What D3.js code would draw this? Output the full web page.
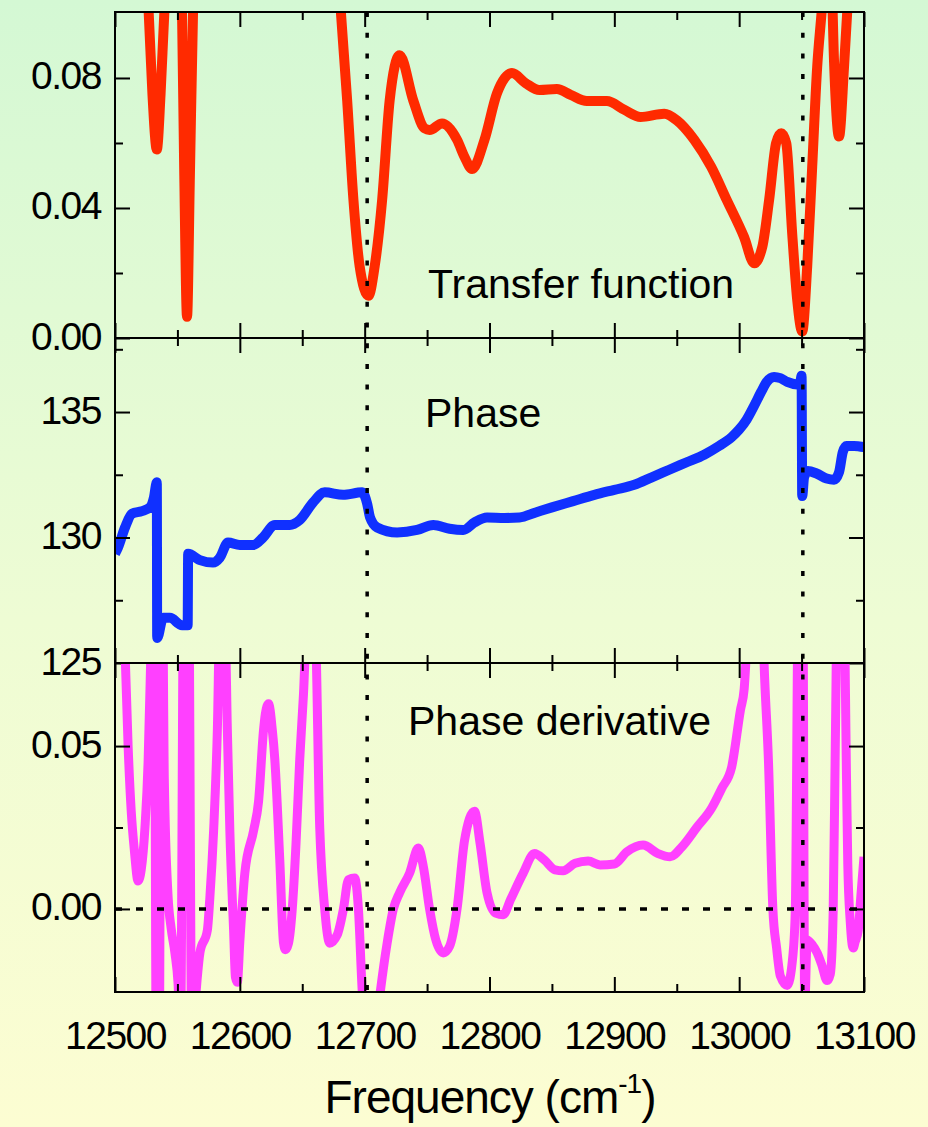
<!DOCTYPE html>
<html>
<head>
<meta charset="utf-8">
<script src="https://cdn.jsdelivr.net/npm/d3@7"></script>
<style>
  html, body { margin: 0; padding: 0; }
  svg { display: block; font-family: "Liberation Sans", Arial, sans-serif; }
</style>
</head>
<body>
<div id="chart"></div>
<script>
// x range shared by all three panels
const freqDomain = [12500, 13100];
const freqMajor = [12500, 12600, 12700, 12800, 12900, 13000, 13100];
const freqMinor = [12550, 12650, 12750, 12850, 12950, 13050];
const markerFreqs = [12702, 13051];

// transfer function (frequency, value)
const transferData = [
  [12500, 0.16], [12522, 0.13], [12527, 0.1], [12530, 0.075], [12533.5, 0.058], [12536.5, 0.075],
  [12539.5, 0.1], [12545, 0.13], [12551, 0.13], [12553.7, 0.1], [12555.5, 0.05], [12557.7, 0.0065],
  [12560, 0.05], [12562.5, 0.1], [12568, 0.14], [12620, 0.16], [12676, 0.13], [12681, 0.1],
  [12686, 0.073], [12691, 0.0425], [12696, 0.022], [12703, 0.013], [12708, 0.022], [12714, 0.0425],
  [12720, 0.073], [12728, 0.087], [12739, 0.073], [12748, 0.0645], [12752, 0.064], [12762, 0.066],
  [12774, 0.061], [12780, 0.0557], [12786, 0.052], [12796, 0.061], [12806, 0.0753], [12818, 0.0815],
  [12829, 0.0784], [12840, 0.0763], [12854, 0.0766], [12865, 0.0748], [12878, 0.0729], [12894, 0.0729],
  [12908, 0.0702], [12921, 0.068], [12940, 0.069], [12950, 0.067], [12964, 0.061], [12977.5, 0.0527],
  [12990, 0.0425], [13004, 0.031], [13012, 0.023], [13018.5, 0.028], [13024, 0.0425], [13029.6, 0.06],
  [13033.7, 0.063], [13037.7, 0.06], [13042.5, 0.032], [13046.5, 0.0117], [13050.5, 0.002],
  [13054.5, 0.022], [13058.5, 0.0527], [13062.5, 0.0834], [13066, 0.1], [13070, 0.12], [13074, 0.11],
  [13076, 0.085], [13080, 0.062], [13084, 0.0834], [13086.5, 0.1], [13090, 0.12], [13100, 0.14]
];

// phase (frequency, degrees)
const phaseData = [
  [12500, 129.35], [12502.4, 129.6], [12508, 130.4], [12513.6, 130.95], [12521.6, 131.05],
  [12528, 131.2], [12531.2, 131.6], [12533.5, 132.2], [12533.8, 126.0], [12538.5, 126.8],
  [12544, 126.8], [12553.7, 126.5], [12558.2, 126.5], [12558.6, 129.35], [12568, 129.1],
  [12578.5, 129.0], [12584, 129.2], [12590.5, 129.8], [12600, 129.7], [12610.6, 129.7],
  [12618.6, 130.0], [12628, 130.5], [12640, 130.5], [12648, 130.7], [12658.7, 131.4],
  [12668, 131.8], [12682.7, 131.7], [12698, 131.8], [12702, 131.35], [12704.3, 130.8],
  [12710, 130.4], [12726, 130.2], [12742, 130.3], [12755, 130.5], [12768, 130.35], [12779, 130.3],
  [12788, 130.6], [12798, 130.8], [12812, 130.78], [12824, 130.8], [12837, 131.0], [12850, 131.2],
  [12867, 131.45], [12884, 131.7], [12900, 131.9], [12916, 132.1], [12930, 132.4], [12944, 132.7],
  [12958, 133.0], [12972, 133.3], [12984, 133.65], [12994, 134.0], [13000, 134.3], [13006, 134.7],
  [13012, 135.25], [13017.6, 135.8], [13022, 136.2], [13028, 136.4], [13033, 136.35],
  [13038.5, 136.2], [13046.5, 136.1], [13049, 136.2], [13050, 136.45], [13050.5, 131.65],
  [13052, 132.4], [13055, 132.65], [13062, 132.55], [13070, 132.35], [13076, 132.3],
  [13080, 132.6], [13083, 133.4], [13086, 133.65], [13092, 133.65], [13100, 133.6]
];

// phase derivative (frequency, value)
const derivData = [
  [12500, 0.2], [12508, 0.08], [12510.5, 0.05], [12513, 0.03], [12515.5, 0.018], [12518.5, 0.0086],
  [12521, 0.012], [12524, 0.025], [12526.5, 0.045], [12528.5, 0.075], [12530, 0.1], [12531.5, 0.1],
  [12533, -0.04], [12535.5, -0.04], [12537, 0.1], [12538, 0.1], [12539.5, 0.04], [12542.5, 0.004],
  [12545, -0.006], [12548, -0.0135], [12550.5, -0.0227], [12552.5, -0.04], [12555, 0.1], [12559, 0.1],
  [12561.5, -0.04], [12564, -0.03], [12565.7, -0.022], [12568, -0.0135], [12574, -0.0065],
  [12576, 0.0035], [12579, 0.024], [12582, 0.055], [12584, 0.09], [12588, 0.09], [12590, 0.055],
  [12592, 0.024], [12595, -0.0065], [12596.5, -0.021], [12598, -0.0225], [12600, -0.01],
  [12604, 0.011], [12611, 0.024], [12615, 0.033], [12619, 0.055], [12620.5, 0.06], [12623, 0.063],
  [12626, 0.055], [12628, 0.046], [12632, 0.015], [12635, -0.0105], [12636.5, -0.0125],
  [12639, -0.0105], [12642, 0.0], [12645, 0.02], [12648, 0.046], [12651, 0.066], [12654, 0.09],
  [12660, 0.09], [12664, 0.025], [12668, 0.0], [12672, -0.0105], [12678, -0.008], [12683, 0.0],
  [12687, 0.009], [12692, 0.0095], [12695, 0.0], [12698, -0.025], [12705, -0.05], [12711, -0.03],
  [12718, -0.0105], [12723, 0.0], [12728, 0.005], [12736, 0.011], [12743, 0.0187], [12747, 0.013],
  [12752, 0.0], [12757, -0.0095], [12763, -0.0135], [12768, -0.0115], [12774, 0.0], [12780, 0.021],
  [12788, 0.03], [12792.5, 0.02], [12798, 0.005], [12805, -0.0013], [12811, -0.0018], [12817, 0.003],
  [12827, 0.011], [12836, 0.017], [12844, 0.015], [12852.5, 0.012], [12859, 0.0117], [12868.6, 0.014],
  [12879, 0.0147], [12888.6, 0.0135], [12900, 0.0138], [12910, 0.0175], [12923, 0.0196],
  [12935, 0.017], [12944.7, 0.016], [12954, 0.019], [12966, 0.025], [12978, 0.031], [12986, 0.037],
  [12994, 0.0436], [13001, 0.061], [13004, 0.0675], [13006, 0.08], [13010, 0.1], [13018, 0.1],
  [13020, 0.075], [13023.5, 0.045], [13027, 0.0], [13030, -0.012], [13033, -0.0206],
  [13038.5, -0.0235], [13043, -0.0145], [13045, 0.0], [13047.5, 0.1], [13051, 0.1],
  [13052.5, -0.03], [13054.5, -0.0095], [13058.5, -0.011], [13062.5, -0.0135], [13066, -0.017],
  [13070.5, -0.022], [13073, -0.02], [13075.3, -0.001], [13077, 0.05], [13078.5, 0.09],
  [13084, 0.09], [13086, 0.04], [13087, 0.014], [13089, -0.004], [13091.3, -0.012], [13093, -0.01],
  [13095.4, -0.0065], [13097.5, 0.004], [13100, 0.016]
];

const width = 928, height = 1127;
const left = 115, right = 864;

const svg = d3.select('#chart').append('svg')
  .attr('width', width)
  .attr('height', height);

// background: green at the top fading to pale yellow
const defs = svg.append('defs');
const grad = defs.append('linearGradient')
  .attr('id', 'bg').attr('x1', 0).attr('y1', 0).attr('x2', 0).attr('y2', 1);
grad.append('stop').attr('offset', '0%').attr('stop-color', '#d4f8d4');
grad.append('stop').attr('offset', '55%').attr('stop-color', '#eefcd4');
grad.append('stop').attr('offset', '100%').attr('stop-color', '#fcfdd2');
svg.append('rect').attr('width', width).attr('height', height).attr('fill', 'url(#bg)');

const x = d3.scaleLinear().domain(freqDomain).range([left, right]);

const panels = [
  {
    id: 'p1', top: 12, bottom: 338, domain: [0, 0.1003],
    major: [0, 0.04, 0.08], minor: [0.02, 0.06],
    fmt: d3.format('.2f'), data: transferData, color: '#ff2a00', width: 10,
    label: 'Transfer function', labelX: 428, labelY: 298
  },
  {
    id: 'p2', top: 338, bottom: 663, domain: [125, 137.95],
    major: [125, 130, 135], minor: [127.5, 132.5, 137.5],
    fmt: d3.format('d'), data: phaseData, color: '#1030ff', width: 10,
    label: 'Phase', labelX: 425, labelY: 427
  },
  {
    id: 'p3', top: 663, bottom: 992, domain: [-0.0255, 0.0755],
    major: [0, 0.05], minor: [0.025],
    fmt: d3.format('.2f'), data: derivData, color: '#ff40ff', width: 9,
    label: 'Phase derivative', labelX: 408, labelY: 735
  }
];

const tickStyle = g => {
  g.select('.domain').remove();
  g.selectAll('.tick line').attr('stroke', '#000').attr('stroke-width', 2);
  g.selectAll('.tick text')
    .attr('fill', '#000')
    .style('font-size', '39px')
    .style('letter-spacing', '-1.5px');
};

panels.forEach((p, i) => {
  const y = d3.scaleLinear().domain(p.domain).range([p.bottom, p.top]);
  p.y = y;

  defs.append('clipPath').attr('id', 'clip-' + p.id)
    .append('rect')
    .attr('x', left).attr('y', p.top)
    .attr('width', right - left).attr('height', p.bottom - p.top);

  const line = d3.line()
    .x(d => x(d[0]))
    .y(d => y(d[1]))
    .curve(d3.curveMonotoneX);

  svg.append('path')
    .datum(p.data)
    .attr('clip-path', `url(#clip-${p.id})`)
    .attr('fill', 'none')
    .attr('stroke', p.color)
    .attr('stroke-width', p.width)
    .attr('stroke-linejoin', 'round')
    .attr('d', line);

  // y ticks, pointing inward on both sides
  svg.append('g')
    .attr('transform', `translate(${left},0)`)
    .call(d3.axisLeft(y).tickValues(p.major).tickSize(-15).tickPadding(14).tickFormat(p.fmt))
    .call(tickStyle)
    .call(g => g.selectAll('.tick text').attr('dy', '11px'));
  svg.append('g')
    .attr('transform', `translate(${left},0)`)
    .call(d3.axisLeft(y).tickValues(p.minor).tickSize(-8).tickFormat(''))
    .call(tickStyle);
  svg.append('g')
    .attr('transform', `translate(${right},0)`)
    .call(d3.axisRight(y).tickValues(p.major).tickSize(-15).tickFormat(''))
    .call(tickStyle);
  svg.append('g')
    .attr('transform', `translate(${right},0)`)
    .call(d3.axisRight(y).tickValues(p.minor).tickSize(-8).tickFormat(''))
    .call(tickStyle);

  // x ticks on top and bottom edges of every panel
  svg.append('g')
    .attr('transform', `translate(0,${p.top})`)
    .call(d3.axisTop(x).tickValues(freqMajor).tickSize(-15).tickFormat(''))
    .call(tickStyle);
  svg.append('g')
    .attr('transform', `translate(0,${p.top})`)
    .call(d3.axisTop(x).tickValues(freqMinor).tickSize(-8).tickFormat(''))
    .call(tickStyle);
  const last = i === panels.length - 1;
  svg.append('g')
    .attr('transform', `translate(0,${p.bottom})`)
    .call(d3.axisBottom(x).tickValues(freqMajor).tickSize(-15).tickPadding(16)
      .tickFormat(last ? d3.format('d') : ''))
    .call(tickStyle)
    .call(g => g.selectAll('.tick text').attr('dy', '1.05em'));
  svg.append('g')
    .attr('transform', `translate(0,${p.bottom})`)
    .call(d3.axisBottom(x).tickValues(freqMinor).tickSize(-8).tickFormat(''))
    .call(tickStyle);

  svg.append('rect')
    .attr('x', left).attr('y', p.top)
    .attr('width', right - left).attr('height', p.bottom - p.top)
    .attr('fill', 'none').attr('stroke', '#000').attr('stroke-width', 2);

  svg.append('text')
    .attr('x', p.labelX).attr('y', p.labelY)
    .attr('fill', '#000')
    .style('font-size', '41px')
    .text(p.label);
});

// zero line of the derivative panel
const y3 = panels[2].y;
svg.append('line')
  .attr('x1', left).attr('x2', right)
  .attr('y1', y3(0)).attr('y2', y3(0))
  .attr('stroke', '#000').attr('stroke-width', 3.5)
  .attr('stroke-dasharray', '7,14');

// vertical markers through all panels
svg.selectAll('line.marker')
  .data(markerFreqs)
  .join('line')
  .attr('class', 'marker')
  .attr('x1', d => x(d)).attr('x2', d => x(d))
  .attr('y1', panels[0].top).attr('y2', panels[2].bottom)
  .attr('stroke', '#000').attr('stroke-width', 3.5)
  .attr('stroke-dasharray', '5,15.7');

// axis title
const title = svg.append('text')
  .attr('x', 490).attr('y', 1113)
  .attr('text-anchor', 'middle')
  .attr('fill', '#000')
  .style('font-size', '46px')
  .style('letter-spacing', '-1px');
title.append('tspan').text('Frequency (cm');
title.append('tspan').attr('dy', -20).style('font-size', '28px').text('-1');
title.append('tspan').attr('dy', 20).text(')');
</script>
</body>
</html>
